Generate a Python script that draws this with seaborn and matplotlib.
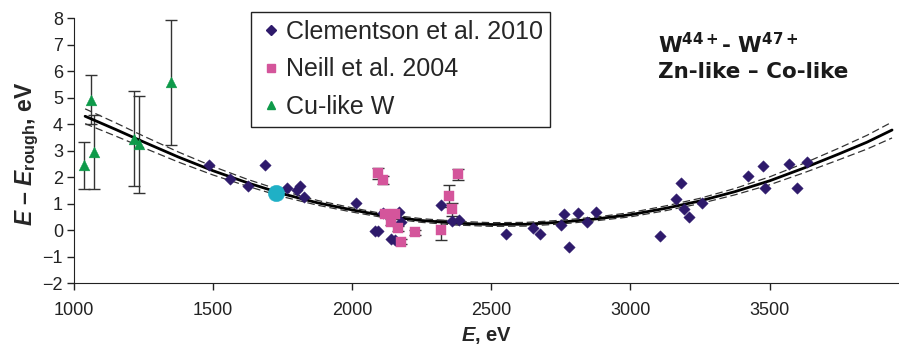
import numpy as np
import pandas as pd
import matplotlib
matplotlib.use("Agg")
import matplotlib.pyplot as plt
import seaborn as sns
from matplotlib.lines import Line2D

sns.set_style("ticks")
plt.rcParams.update({
    "font.family": ["Liberation Sans", "DejaVu Sans"],
    "mathtext.fontset": "custom",
    "mathtext.it": "Liberation Sans:italic:bold",
    "mathtext.rm": "Liberation Sans:bold",
    "mathtext.bf": "Liberation Sans:bold",
    "mathtext.sf": "DejaVu Sans:bold",
    "axes.edgecolor": "#222222",
    "xtick.color": "#222222",
    "ytick.color": "#222222",
})

# Clementson et al. 2010
clem_x = [1487, 1560, 1626, 1686, 1764, 1800, 1814, 1827, 2013, 2081, 2094, 2111,
          2138, 2153, 2167, 2176, 2318, 2359, 2383, 2554, 2651, 2673, 2749, 2760,
          2779, 2811, 2843, 2875, 3106, 3165, 3180, 3194, 3210, 3256, 3424, 3475,
          3485, 3568, 3597, 3634]
clem_y = [2.47, 1.94, 1.66, 2.47, 1.58, 1.50, 1.66, 1.24, 1.04, -0.02, -0.02, 0.65,
          -0.34, -0.39, 0.68, 0.32, 0.93, 0.33, 0.37, -0.13, 0.07, -0.13, 0.20, 0.60,
          -0.65, 0.64, 0.31, 0.67, -0.24, 1.18, 1.77, 0.78, 0.48, 1.03, 2.03, 2.43,
          1.58, 2.51, 1.58, 2.58]

# Neill et al. 2004
neill_x = [2093, 2110, 2117, 2138, 2155, 2165, 2176, 2225, 2318, 2348, 2357, 2381]
neill_y = [2.15, 1.90, 0.62, 0.30, 0.61, 0.07, -0.44, -0.08, 0.01, 1.28, 0.79, 2.10]
neill_err = [0.21, 0.15, 0.10, 0.10, 0.10, 0.10, 0.10, 0.10, 0.38, 0.42, 0.24, 0.20]

# Cu-like W
cu_x = [1036, 1060, 1071, 1215, 1235, 1350]
cu_y = [2.44, 4.93, 2.95, 3.45, 3.24, 5.58]
cu_err = [0.88, 0.92, 1.40, 1.79, 1.84, 2.35]

# highlighted point
hl_x = [1726]
hl_y = [1.40]

# fitted curve and its confidence band (half width)
fit_x = [1040, 1150, 1250, 1375, 1500, 1625, 1750, 1875, 2000, 2125, 2250, 2375, 2500,
         2625, 2750, 2875, 3000, 3125, 3250, 3375, 3500, 3625, 3750, 3850, 3940]
fit_y = [4.30, 3.80, 3.33, 2.76, 2.24, 1.78, 1.37, 1.03, 0.76, 0.52, 0.36, 0.26, 0.21,
         0.22, 0.30, 0.42, 0.58, 0.82, 1.10, 1.45, 1.86, 2.35, 2.88, 3.32, 3.78]
fit_hw = [0.28, 0.25, 0.22, 0.19, 0.16, 0.13, 0.11, 0.09, 0.08, 0.07, 0.07, 0.07, 0.07,
          0.07, 0.07, 0.07, 0.08, 0.09, 0.10, 0.12, 0.15, 0.18, 0.22, 0.26, 0.30]

C_CLEM = "#2e1a6b"
C_NEILL = "#d4559b"
C_CU = "#0e9a4a"
C_HL = "#1fb0c6"

fit = pd.DataFrame({"x": fit_x, "y": fit_y, "hw": fit_hw})
fit["lo"] = fit["y"] - fit["hw"]
fit["hi"] = fit["y"] + fit["hw"]

fig = plt.figure(figsize=(8.99, 3.52), dpi=100)
ax = fig.add_axes([0.0823, 0.196, 0.9177, 0.752])

sns.lineplot(data=fit, x="x", y="y", ax=ax, color="black", lw=2.0, zorder=3)
for col in ["lo", "hi"]:
    sns.lineplot(data=fit, x="x", y=col, ax=ax, color="#333333", lw=0.9,
                 linestyle=(0, (6, 3)), zorder=3)

ax.errorbar(cu_x, cu_y, yerr=cu_err, fmt="none", ecolor="#333333", elinewidth=1.0,
            capsize=4, capthick=1.0, zorder=2)
ax.errorbar(neill_x, neill_y, yerr=neill_err, fmt="none", ecolor="#333333",
            elinewidth=1.0, capsize=4, capthick=1.0, zorder=2)

sns.scatterplot(x=clem_x, y=clem_y, ax=ax, marker="D", s=34, color=C_CLEM,
                edgecolor=C_CLEM, linewidth=0.3, zorder=4)
sns.scatterplot(x=neill_x, y=neill_y, ax=ax, marker="s", s=44, color=C_NEILL,
                edgecolor=C_NEILL, linewidth=0.3, zorder=4)
sns.scatterplot(x=cu_x, y=cu_y, ax=ax, marker="^", s=60, color=C_CU,
                edgecolor=C_CU, linewidth=0.3, zorder=4)
sns.scatterplot(x=hl_x, y=hl_y, ax=ax, marker="o", s=140, color=C_HL,
                edgecolor=C_HL, linewidth=0.3, zorder=5)

ax.set_xlim(1000, 3965)
ax.set_ylim(-2, 8)
ax.set_xticks([1000, 1500, 2000, 2500, 3000, 3500])
ax.set_yticks(np.arange(-2, 9, 1))
sns.despine(ax=ax)
ax.tick_params(axis="both", direction="out", length=5, width=1.0)
ax.tick_params(axis="x", pad=9)
ax.tick_params(axis="y", pad=3)
for lab in ax.get_xticklabels() + ax.get_yticklabels():
    lab.set_fontsize(13)

ax.set_xlabel(r"$E$, eV", fontsize=14.5, fontweight="bold", labelpad=4)
ax.set_ylabel(r"$E$ – $E_{\mathrm{rough}}$, eV", fontsize=16.5, fontweight="bold")
ax.yaxis.set_label_coords(-0.040, 0.49)

ax.text(3098, 6.69, r"$\mathsf{W^{44+}}$- $\mathsf{W^{47+}}$", family="DejaVu Sans",
        fontweight="bold", fontsize=15.5, va="baseline", ha="left", color="#1a1a1a")
ax.text(3098, 5.74, "Zn-like – Co-like", family="DejaVu Sans", fontweight="bold",
        fontsize=15.5, va="baseline", ha="left", color="#1a1a1a")

handles = [
    Line2D([], [], marker="D", ls="none", color=C_CLEM, markersize=5),
    Line2D([], [], marker="s", ls="none", color=C_NEILL, markersize=5.5),
    Line2D([], [], marker="^", ls="none", color=C_CU, markersize=6),
]
labels = ["Clementson et al. 2010", "Neill et al. 2004", "Cu-like W"]
leg = ax.legend(handles, labels, loc="upper left", bbox_to_anchor=(0.2145, 1.023),
                borderaxespad=0, fontsize=18, frameon=True, fancybox=False,
                edgecolor="#222222", framealpha=1, handletextpad=0.1,
                handlelength=1.0, labelspacing=0.55, borderpad=0.3)
leg.get_frame().set_linewidth(1.0)

fig.savefig("out.png", dpi=100)
